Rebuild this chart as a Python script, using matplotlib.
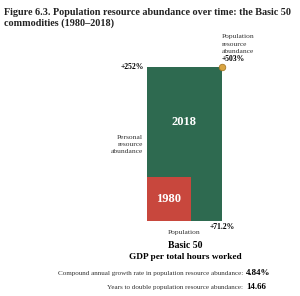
import matplotlib.pyplot as plt

# values
years = ["1980", "2018"]
population_growth = [0.0, 71.2]      # % change in population
personal_growth = [0.0, 252.0]       # % change in personal resource abundance
population_abundance = 503           # % change in population resource abundance
cagr = "4.84%"
years_to_double = "14.66"

widths = [1 + p / 100 for p in population_growth]
heights = [1 + p / 100 for p in personal_growth]
colours = ["#c8473d", "#2e6a50"]

plt.rcParams["font.family"] = ["Liberation Serif", "DejaVu Serif"]

fig = plt.figure(figsize=(3.0, 2.96), dpi=100)
ax = fig.add_axes([147 / 300, 75 / 296, 75 / 300, 154 / 296])

# draw the larger square first so the 1980 square sits on top
for i in [1, 0]:
    ax.bar(0, heights[i], width=widths[i], align="edge", color=colours[i],
           linewidth=0)

ax.text(widths[0] / 2, heights[0] / 2, years[0], color="white", fontsize=9,
        fontweight="bold", ha="center", va="center")
ax.text(widths[1] / 2, (heights[1] + 1) / 2, years[1], color="white",
        fontsize=9, fontweight="bold", ha="center", va="center")

ax.scatter([widths[1]], [heights[1]], s=22, color="#d9a441",
           edgecolor="#a87a2a", linewidth=0.6, zorder=5, clip_on=False)

ax.set_xlim(0, widths[1])
ax.set_ylim(0, heights[1])
ax.axis("off")

# annotations around the boxes
ax.annotate(f"+{personal_growth[1]:.0f}%", (0, heights[1]),
            xytext=(-2, 0), textcoords="offset points", fontsize=5.5,
            fontweight="bold", ha="right", va="center")
ax.annotate("Personal\nresource\nabundance", (0, 1.75), xytext=(-3, 0),
            textcoords="offset points", fontsize=5.4, ha="right",
            va="center", linespacing=1.6, color="#333333")
ax.annotate("Population\nresource\nabundance", (widths[1], heights[1]),
            xytext=(0, 16.3), textcoords="offset points", fontsize=5.4,
            ha="left", va="center", linespacing=1.6, color="#333333")
ax.annotate(f"+{population_abundance}%", (widths[1], heights[1]),
            xytext=(0, 5.5), textcoords="offset points", fontsize=5.5,
            fontweight="bold", ha="left", va="center")
ax.annotate(f"+{population_growth[1]}%", (widths[1], 0), xytext=(0, -4),
            textcoords="offset points", fontsize=5.5, fontweight="bold",
            ha="center", va="center")
ax.annotate("Population", (widths[1] / 2, 0), xytext=(0, -8.5),
            textcoords="offset points", fontsize=5.4, ha="center",
            va="center", color="#333333")

fig.text(0.015, 0.972, "Figure 6.3. Population resource abundance over time: the Basic 50\ncommodities (1980\u20132018)",
         fontsize=7.3, fontweight="bold", ha="left", va="top", linespacing=1.15,
         color="#222222")
fig.text(185 / 300, 1 - 246 / 296, "Basic 50", fontsize=7, fontweight="bold",
         ha="center", va="center")
fig.text(185 / 300, 1 - 257 / 296, "GDP per total hours worked", fontsize=6.7,
         fontweight="bold", ha="center", va="center")
fig.text(243 / 300, 1 - 273 / 296,
         "Compound annual growth rate in population resource abundance:",
         fontsize=5.1, ha="right", va="center", color="#333333")
fig.text(246 / 300, 1 - 273 / 296, cagr, fontsize=6.5, fontweight="bold",
         ha="left", va="center")
fig.text(243 / 300, 1 - 287 / 296,
         "Years to double population resource abundance:",
         fontsize=5.1, ha="right", va="center", color="#333333")
fig.text(246 / 300, 1 - 287 / 296, years_to_double, fontsize=6.5,
         fontweight="bold", ha="left", va="center")

plt.savefig("out.png", dpi=100)
